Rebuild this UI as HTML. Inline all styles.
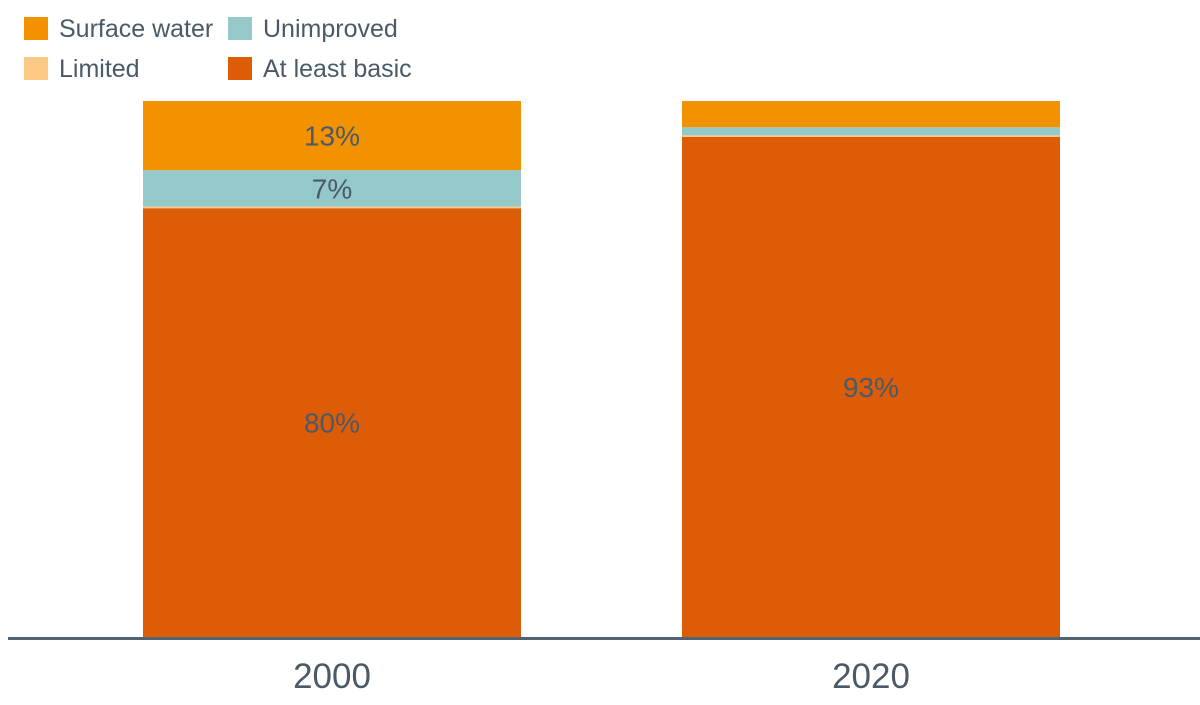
<!DOCTYPE html>
<html><head><meta charset="utf-8"><style>
body{margin:0;background:#fff;font-family:"Liberation Sans",sans-serif}
svg text{font-family:"Liberation Sans",sans-serif}
</style></head><body>
<svg width="1200" height="700">
<g id="legend"></g>
<g id="bars"></g>
<line x1="8" x2="1200" y1="638.5" y2="638.5" stroke="#4f6372" stroke-width="3"/>
<g id="xlabels"></g>
</svg>
<script>
const categories = ["2000", "2020"];
const basic = [80.0, 93.3];
const limited = [0.3, 0.3];
const unimproved = [6.8, 1.5];
const surface = [12.9, 4.9];
const basicLabels = ["80%", "93%"];
const limitedLabels = ["", ""];
const unimprovedLabels = ["7%", ""];
const surfaceLabels = ["13%", ""];

const NS = "http://www.w3.org/2000/svg";
const y0 = 637, y1 = 101;
const yScale = v => y0 - v / 100 * (y0 - y1);
const barW = 378;
const xCenter = i => 332 + i * 539;
const series = [
  {name: "at-least-basic", vals: basic, labels: basicLabels, color: "#dd5c08"},
  {name: "limited", vals: limited, labels: limitedLabels, color: "#fdc987"},
  {name: "unimproved", vals: unimproved, labels: unimprovedLabels, color: "#95c8c8"},
  {name: "surface-water", vals: surface, labels: surfaceLabels, color: "#f39200"}
];
function mk(tag, attrs, parent) {
  const e = document.createElementNS(NS, tag);
  for (const k in attrs) e.setAttribute(k, attrs[k]);
  parent.appendChild(e);
  return e;
}
const bars = document.getElementById("bars");
categories.forEach((c, i) => {
  let cum = 0;
  series.forEach(s => {
    const v = s.vals[i];
    const top = yScale(cum + v), bot = yScale(cum);
    const r = mk("rect", {x: xCenter(i) - barW / 2, y: top, width: barW, height: bot - top, fill: s.color}, bars);
    
    
    if (s.labels[i]) {
      const t = mk("text", {x: xCenter(i), y: (top + bot) / 2 + 10, "text-anchor": "middle", "font-size": "28", fill: "#4a5a68"}, bars);
      t.textContent = s.labels[i];
      
      
    }
    cum += v;
  });
  const xl = mk("text", {x: xCenter(i), y: 688, "text-anchor": "middle", "font-size": "35", fill: "#4a5a68"}, document.getElementById("xlabels"));
  xl.textContent = c;
  
  
});
const legendItems = [
  {label: "Surface water", color: "#f39200", x: 24, y: 17},
  {label: "Unimproved", color: "#95c8c8", x: 228, y: 17},
  {label: "Limited", color: "#fdc987", x: 24, y: 57},
  {label: "At least basic", color: "#dd5c08", x: 228, y: 57}
];
const lg = document.getElementById("legend");
legendItems.forEach(it => {
  const g = mk("g", {}, lg);
  
  
  mk("rect", {x: it.x, y: it.y, width: 24, height: 23, fill: it.color}, g);
  const t = mk("text", {x: it.x + 35, y: it.y + 20, "font-size": "25", fill: "#4a5a68"}, g);
  t.textContent = it.label;
});
</script>
</body></html>
